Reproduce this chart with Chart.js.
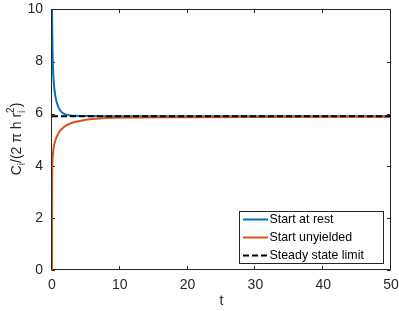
<!DOCTYPE html>
<html>
<head>
<meta charset="utf-8">
<script src="https://cdn.jsdelivr.net/npm/chart.js@4.4.0/dist/chart.umd.min.js"></script>
<style>
html,body{margin:0;padding:0;background:#fff;}
#wrap{width:399px;height:311px;position:relative;}
</style>
</head>
<body>
<div id="wrap"><canvas id="c" width="399" height="311"></canvas></div>
<script>
// ---- data ----
const restT = [0, 0.03, 0.07, 0.12, 0.18, 0.26, 0.37, 0.5, 0.65, 0.8, 1.0, 1.25, 1.5, 2.0, 2.7, 3.5, 5, 8, 15, 30, 50];
const restY = [10, 9.3, 8.6, 8.0, 7.55, 7.2, 6.9, 6.67, 6.48, 6.35, 6.22, 6.11, 6.04, 5.97, 5.93, 5.915, 5.905, 5.9, 5.9, 5.9, 5.9];
const unyT = [0, 0.005, 0.02, 0.05, 0.1, 0.2, 0.35, 0.5, 0.75, 1.0, 1.25, 1.6, 2.0, 2.7, 3.5, 4.5, 6, 8, 12, 20, 30, 50];
const unyY = [0, 2.0, 3.4, 4.0, 4.3, 4.6, 4.83, 4.98, 5.15, 5.27, 5.36, 5.45, 5.53, 5.62, 5.69, 5.74, 5.79, 5.83, 5.85, 5.865, 5.875, 5.88];
const steadyT = [0, 50];
const steadyY = [5.9, 5.9];
const seriesNames = ["Start at rest", "Start unyielded", "Steady state limit"];
const xTicks = [0, 10, 20, 30, 40, 50];
const yTicks = [0, 2, 4, 6, 8, 10];

const FONT = "'Liberation Sans', Arial, Helvetica, sans-serif";
const AX = '#262626';

function pts(t, y){ return t.map((v,i)=>({x:v, y:y[i]})); }

const framePlugin = {
  id:'frame',
  beforeDatasetsDraw(chart){
    const {ctx, chartArea:a, scales:{x, y}} = chart;
    ctx.save();
    ctx.strokeStyle = AX; ctx.lineWidth = 1;
    const L = Math.round(a.left)-0.5, R = Math.round(a.right)-0.5, T = Math.round(a.top)+0.5, B = Math.round(a.bottom)-0.5;
    ctx.strokeRect(L, T, R-L, B-T);
    const tl = 3.5;
    ctx.beginPath();
    xTicks.forEach(v=>{
      const px = Math.round(x.getPixelForValue(v))-0.5;
      ctx.moveTo(px, B); ctx.lineTo(px, B-tl);
      ctx.moveTo(px, T); ctx.lineTo(px, T+tl);
    });
    yTicks.forEach(v=>{
      const py = Math.round(y.getPixelForValue(v))+0.5;
      ctx.moveTo(L, py); ctx.lineTo(L+tl, py);
      ctx.moveTo(R, py); ctx.lineTo(R-tl, py);
    });
    ctx.stroke();
    ctx.restore();
  },
  afterDraw(chart){
    const {ctx, chartArea:a} = chart;
    ctx.save();
    // x title
    ctx.fillStyle = AX;
    ctx.font = '14px ' + FONT;
    ctx.textAlign = 'center'; ctx.textBaseline = 'middle';
    ctx.fillText('t', (a.left+a.right)/2, 301);
    // y title with sub/superscripts
    ctx.translate(16, 139);
    ctx.rotate(-Math.PI/2);
    const main = '14px ' + FONT, small = '10px ' + FONT;
    const parts = [
      {t:'C', f:main, dy:0},
      {t:'i', f:small, dy:4},
      {t:'/(2 \u03C0 h r', f:main, dy:0},
      {t:'i', f:small, dy:4, stack:'2'},
      {t:')', f:main, dy:0}
    ];
    let total = 0;
    parts.forEach(p=>{ ctx.font=p.f; let w=ctx.measureText(p.t).width; if(p.stack){w=Math.max(w, ctx.measureText(p.stack).width);} p.w=w; total+=w; });
    let cx = -total/2;
    ctx.textAlign='left'; ctx.textBaseline='alphabetic';
    const base = 5;
    parts.forEach(p=>{
      ctx.font=p.f;
      ctx.fillText(p.t, cx, base+p.dy);
      if(p.stack){ ctx.fillText(p.stack, cx, base-7); }
      cx += p.w;
    });
    ctx.restore();

    // legend
    ctx.save();
    const lx=239.5, ly=211.5, lw=144, lh=52;
    ctx.fillStyle='#fff'; ctx.fillRect(lx, ly, lw, lh);
    ctx.strokeStyle=AX; ctx.lineWidth=1; ctx.strokeRect(lx, ly, lw, lh);
    const ds = chart.data.datasets;
    const rows=[219.5, 237.5, 255.5];
    ctx.font='12.4px '+FONT; ctx.textBaseline='middle'; ctx.textAlign='left';
    ds.forEach((d,i)=>{
      ctx.beginPath();
      ctx.strokeStyle=d.borderColor; ctx.lineWidth=d.borderWidth;
      ctx.setLineDash(d.borderDash||[]);
      ctx.moveTo(243, rows[i]); ctx.lineTo(268, rows[i]);
      ctx.stroke();
      ctx.setLineDash([]);
      ctx.fillStyle='#000';
      ctx.fillText(d.label, 269.5, rows[i]);
    });
    ctx.restore();
  }
};

new Chart(document.getElementById('c'), {
  type:'line',
  data:{
    datasets:[
      {label:seriesNames[0], data:pts(restT, restY), order:2, borderColor:'#0072BD', borderWidth:2, pointRadius:0, cubicInterpolationMode:'monotone', fill:false},
      {label:seriesNames[1], data:pts(unyT, unyY), order:1, borderColor:'#D95319', borderWidth:2, pointRadius:0, cubicInterpolationMode:'monotone', fill:false},
      {label:seriesNames[2], data:pts(steadyT, steadyY), order:0, borderColor:'#000000', borderWidth:2, borderDash:[6,3], pointRadius:0, fill:false}
    ]
  },
  options:{
    responsive:false, animation:false, devicePixelRatio:1,
    layout:{padding:{top:7, right:8, left:0, bottom:0}},
    plugins:{legend:{display:false}, tooltip:{enabled:false}},
    scales:{
      x:{type:'linear', min:0, max:50,
         afterBuildTicks(s){ s.ticks = xTicks.map(v=>({value:v})); },
         afterFit(s){ s.height = 41; },
         grid:{display:false}, border:{display:false},
         ticks:{color:AX, font:{family:FONT, size:14}, padding:-1, maxRotation:0}},
      y:{type:'linear', min:0, max:10,
         afterBuildTicks(s){ s.ticks = yTicks.map(v=>({value:v})); },
         afterFit(s){ s.width = 52; },
         grid:{display:false}, border:{display:false},
         ticks:{color:AX, font:{family:FONT, size:14}, padding:1}}
    }
  },
  plugins:[framePlugin]
});
</script>
</body>
</html>
